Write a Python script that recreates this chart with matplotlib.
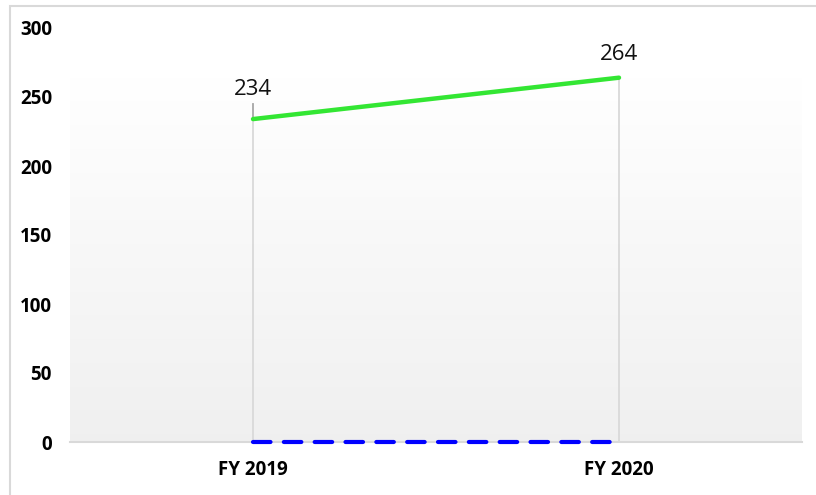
import matplotlib.pyplot as plt
import numpy as np
from matplotlib.patches import Rectangle

plt.rcParams["font.family"] = ["Open Sans", "DejaVu Sans"]

years = ["FY 2019", "FY 2020"]
revenue = [234, 264]
baseline = [0, 0]
drop_top = [245, 264]
label_offsets = [14, 9]
yticks = [0, 50, 100, 150, 200, 250, 300]

fig = plt.figure(figsize=(8.16, 4.95), dpi=100)
ax = fig.add_axes([70 / 816, 53 / 495, 732 / 816, 414 / 495])

x = np.arange(len(years))
ax.set_xlim(-0.5, len(years) - 0.5)
ax.set_ylim(0, 300)

# soft grey gradient behind the data, white at the top to light grey at the bottom
shade = np.linspace(1.0, 0.94, 256)
grad = np.repeat(shade[:, None, None], 3, axis=2)
ax.imshow(grad, aspect="auto", extent=(-0.5, len(years) - 0.5, 0, max(revenue)),
          zorder=0, interpolation="bilinear")

# drop lines from each category up to its point
for xi, v, top in zip(x, revenue, drop_top):
    ax.plot([xi, xi], [0, v], color="#d9d9d9", lw=1.3, zorder=1)
    if top > v:
        ax.plot([xi, xi], [v, top], color="#a6a6a6", lw=1.3, zorder=1)

ax.axhline(0, color="#d9d9d9", lw=1.5, zorder=1, clip_on=False)

ax.plot(x, baseline, color="#0000ff", lw=3, dashes=(4.2, 3.2),
        dash_capstyle="round", zorder=3, clip_on=False)
ax.plot(x, revenue, color="#33e633", lw=3.2, solid_capstyle="round", zorder=4)

for xi, v, off in zip(x, revenue, label_offsets):
    ax.annotate(str(v), (xi, v), xytext=(0, off), textcoords="offset points",
                ha="center", va="bottom", fontsize=16, color="#111111")

ax.set_xticks(x)
ax.set_xticklabels(years, fontsize=13.5, fontweight="bold")
ax.set_yticks(yticks)
ax.set_yticklabels([str(t) for t in yticks], fontsize=13.5, fontweight="bold")
ax.tick_params(length=0)
ax.tick_params(axis="y", pad=13)
ax.tick_params(axis="x", pad=13)
for s in ax.spines.values():
    s.set_visible(False)
ax.set_facecolor("none")

# chart frame
fig.patches.append(Rectangle((10 / 816, -0.05), 1.0, 1 - 6 / 495 + 0.05,
                             transform=fig.transFigure, fill=False,
                             edgecolor="#d9d9d9", lw=1.5))

fig.savefig("out.png", dpi=100)
